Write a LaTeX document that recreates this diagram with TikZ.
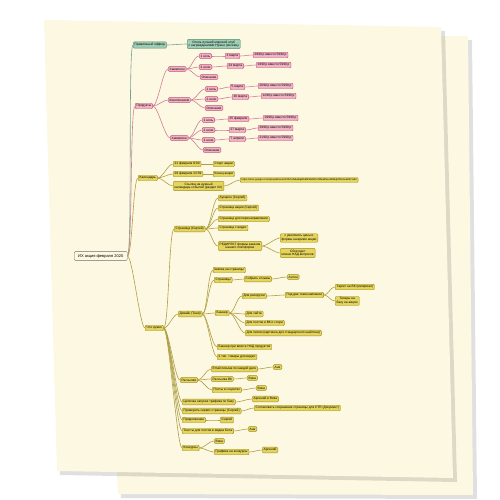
\documentclass[tikz,border=0pt]{standalone}
\usepackage{fontspec}
\setmainfont{Liberation Sans}
\usepackage{tikz}
\usetikzlibrary{positioning, calc}
\definecolor{paper}{RGB}{253,248,226}
\definecolor{mmpink}{RGB}{242,178,196}
\definecolor{mmpinkdk}{RGB}{190,84,116}
\definecolor{mmyellow}{RGB}{228,212,92}
\definecolor{mmyellowdk}{RGB}{160,142,36}
\definecolor{mmgreen}{RGB}{160,206,180}
\definecolor{mmgreendk}{RGB}{86,140,110}
\definecolor{rootgray}{RGB}{110,110,110}

\begin{document}
\begin{tikzpicture}[x=1pt,y=-1pt,
  box/.style={anchor=west, rounded corners=1pt, line width=0.4pt, inner xsep=1.5pt, inner ysep=1.3pt, font=\fontsize{3.2}{3.6}\selectfont, align=center},
  pnode/.style={box, draw=mmpinkdk, fill=mmpink},
  ynode/.style={box, draw=mmyellowdk, fill=mmyellow},
  gnode/.style={box, draw=mmgreendk, fill=mmgreen},
  rootbox/.style={box, draw=rootgray, fill=paper, inner xsep=4pt, inner ysep=2.5pt, font=\fontsize{4}{4.6}\selectfont},
  hc/.style={to path={.. controls ([xshift=5pt]\tikztostart) and ([xshift=-5pt]\tikztotarget) .. (\tikztotarget)}},
  plink/.style={draw=mmpinkdk!75, line width=0.6pt, hc},
  ylink/.style={draw=mmyellowdk!85, line width=0.6pt, hc},
  glink/.style={draw=mmgreendk!80, line width=0.6pt, hc}]
\useasboundingbox (0,0) rectangle (500,500);
\fill[white] (0,0) rectangle (500,500);
% sheets
\fill[black, opacity=0.12] (103,42) -- (472,40) -- (477,499) -- (121,498) -- cycle;
\fill[paper] (100,38) -- (468,36) -- (473,495) -- (118,494) -- cycle;
\fill[black, opacity=0.12] (47,24) -- (445,31) -- (457,482) -- (60,475) -- cycle;
\fill[paper] (44,20) -- (441,27) -- (453,478) -- (57,471) -- cycle;

% root and first level
\node[rootbox] (r) at (74,256) {ИХ акция февраля 2020};
\node[gnode, inner ysep=1.6pt] (of) at (133,45) {Правильный оффер};
\node[gnode] (ofa) at (187,44) {Отель лучший мировой клуб\\с награждениями Нужно (восемь)};
\node[pnode] (pr) at (135,106) {Продукты};
\node[ynode] (ca) at (138,178) {Календарь};
\node[ynode] (wn) at (145,328) {Что нужно};

% products
\node[pnode] (h1) at (168,69) {Хамелеон};
\node[pnode] (h1a) at (199,56) {1 ночь};
\node[pnode] (h1b) at (199,67) {2 ночи};
\node[pnode] (h1c) at (200,77) {Описание};
\node[pnode] (h1a1) at (225,56) {3 марта};
\node[pnode] (h1a2) at (253,55) {2990 р вместо 5990 р};
\node[pnode] (h1b1) at (227,66) {24 марта};
\node[pnode] (h1b2) at (256,65) {1990 р вместо 5990 р};
\node[pnode] (h2) at (168,100) {Кинопоказом};
\node[pnode] (h2a) at (205,89) {1 ночь};
\node[pnode] (h2b) at (205,99) {2 ночи};
\node[pnode] (h2c) at (205,108) {Описание};
\node[pnode] (h2a1) at (230,87) {5 марта};
\node[pnode] (h2a2) at (258,86) {2690 р вместо 5990 р};
\node[pnode] (h2b1) at (232,97) {26 марта};
\node[pnode] (h2b2) at (261,96) {1290 р вместо 5990 р};
\node[pnode] (h3) at (170,138) {Хамелион};
\node[pnode] (h3a) at (202,120) {1 ночь};
\node[pnode] (h3b) at (202,130) {2 ночи};
\node[pnode] (h3c) at (202,140) {3 ночи};
\node[pnode] (h3d) at (203,150) {Описание};
\node[pnode] (h3a1) at (228,119) {25 февраля};
\node[pnode] (h3a2) at (263,118) {1990 р вместо 5990 р};
\node[pnode] (h3b1) at (229,130) {27 марта};
\node[pnode] (h3b2) at (258,128) {2990 р вместо 5990 р};
\node[pnode] (h3c1) at (229,139) {7 апреля};
\node[pnode] (h3c2) at (258,138) {2190 р вместо 5990 р};

% calendar
\node[ynode] (ca1) at (173,164) {21 февраля 8:00};
\node[ynode] (ca1a) at (213,164) {Старт акции};
\node[ynode] (ca2) at (173,174) {29 февраля 23:59};
\node[ynode] (ca2a) at (213,174) {Конец акции};
\node[ynode] (ca3) at (173,186) {Ссылка на нужный\\календарь событий (раздел ХХ)};
\node[ynode, font=\fontsize{2.5}{2.9}\selectfont] (url) at (240,180) {https://docs.google.com/spreadsheets/d/1fUhzN6wBqWkEfEWxMDcZ6NoBNxuRtB6dpfD8oSuW9Y/edit};

% what is needed
\node[ynode] (st) at (174,229) {Страница (Сергей)};
\node[ynode] (st1) at (218,198) {Аукцион (Сергей)};
\node[ynode] (st2) at (218,208) {Страница акции (Сергей)};
\node[ynode] (st3) at (218,219) {Страница для перенаправления};
\node[ynode] (st4) at (218,228) {Страница с видео};
\node[ynode] (st5) at (218,246) {РЕДИРЕКТ формы заказов\\нашего платформе};
\node[ynode] (st5a) at (280,238) {с увеличить цены и\\формы на время акции};
\node[ynode] (st5b) at (280,253) {Сбор идет\\можно НАД вопросов};

\node[ynode] (ds) at (178,314) {Дизайн (Таня)};
\node[ynode] (ds1) at (213,270) {Шапка на страницы};
\node[ynode] (ds2) at (214,280) {Страницы};
\node[ynode] (ds2a) at (244,279) {Собрать отзывы};
\node[ynode] (ds2b) at (287,277) {Антон};
\node[ynode] (bn) at (215,313) {Баннер};
\node[ynode] (bn1) at (242,296) {Для раскрутки};
\node[ynode] (bn1a) at (285,295) {Под две тема кампании};
\node[ynode] (bn1a1) at (335,287) {Таргет на ВК (материал)};
\node[ynode] (bn1a2) at (335,301) {Тизеры на\\базу на акцию};
\node[ynode] (bn2) at (245,314) {Для сайта};
\node[ynode] (bn3) at (245,323) {Для постов в ВК и стори};
\node[ynode] (bn4) at (245,333) {Для писем (картинка для стандартного шаблона)};
\node[ynode] (ds3) at (217,347) {Баннер при визите НАД продуктов};
\node[ynode] (ds4) at (217,357) {2 тип. товары для видео};

\node[ynode] (rs) at (180,380) {Рассылки};
\node[ynode] (rs1) at (211,369) {Email письма по каждой дате};
\node[ynode] (rs1a) at (273,367) {Аня};
\node[ynode] (rs2) at (211,379) {Рассылка ВК};
\node[ynode] (rs2a) at (247,378) {Вика};
\node[ynode] (rs3) at (212,390) {Посты в соцсетях};
\node[ynode] (rs3a) at (256,388) {Вика};
\node[ynode] (cp) at (182,402) {Цепочка запуска трафика по базу};
\node[ynode] (cpa) at (252,399) {Арсений и Вика};
\node[ynode] (pv) at (182,411) {Проверить сервис страницы (Сергей)};
\node[ynode] (pva) at (254,408) {Согласовать сохранение страницы для CTR (Документ)};
\node[ynode] (pd) at (182,420) {Продолжение};
\node[ynode] (pda) at (220,420) {Сергей};
\node[ynode] (tx) at (182,431) {Тексты для постов в медиа Бота};
\node[ynode] (txa) at (248,429) {Аня};
\node[ynode] (kn) at (182,448) {Конкурсы};
\node[ynode] (kn1) at (214,441) {Вика};
\node[ynode] (kn2) at (214,452) {Графика на конкурсы};
\node[ynode] (kn2a) at (262,450) {Арсений};

% connectors
\foreach \a/\b in {r/of, of/ofa}
  \draw[glink] (\a.east) to (\b.west);
\foreach \a/\b in {r/pr, pr/h1, pr/h2, pr/h3,
    h1/h1a, h1/h1b, h1/h1c, h1a/h1a1, h1a1/h1a2, h1b/h1b1, h1b1/h1b2,
    h2/h2a, h2/h2b, h2/h2c, h2a/h2a1, h2a1/h2a2, h2b/h2b1, h2b1/h2b2,
    h3/h3a, h3/h3b, h3/h3c, h3/h3d, h3a/h3a1, h3a1/h3a2, h3b/h3b1, h3b1/h3b2, h3c/h3c1, h3c1/h3c2}
  \draw[plink] (\a.east) to (\b.west);
\foreach \a/\b in {r/ca, r/wn, ca/ca1, ca/ca2, ca/ca3, ca1/ca1a, ca2/ca2a, ca3/url,
    wn/st, wn/ds, wn/rs, wn/cp, wn/pv, wn/pd, wn/tx, wn/kn,
    st/st1, st/st2, st/st3, st/st4, st/st5, st5/st5a, st5/st5b,
    ds/ds1, ds/ds2, ds/bn, ds/ds3, ds/ds4, ds2/ds2a, ds2a/ds2b,
    bn/bn1, bn/bn2, bn/bn3, bn/bn4, bn1/bn1a, bn1a/bn1a1, bn1a/bn1a2,
    rs/rs1, rs/rs2, rs/rs3, rs1/rs1a, rs2/rs2a, rs3/rs3a,
    cp/cpa, pv/pva, pd/pda, tx/txa, kn/kn1, kn/kn2, kn2/kn2a}
  \draw[ylink] (\a.east) to (\b.west);
\end{tikzpicture}
\end{document}
